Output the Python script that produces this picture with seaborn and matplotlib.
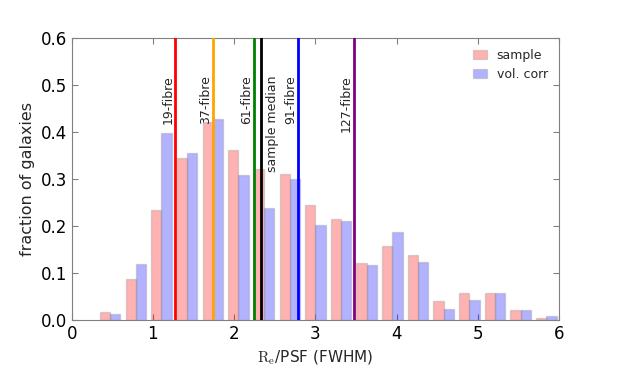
import seaborn as sns
import matplotlib.pyplot as plt
import pandas as pd

#### data
bin_centres = [0.473, 0.789, 1.105, 1.421, 1.737, 2.053, 2.369, 2.685, 3.001,
               3.317, 3.633, 3.949, 4.265, 4.581, 4.897, 5.213, 5.529, 5.845]
frac_sample = [0.016, 0.087, 0.233, 0.344, 0.420, 0.361, 0.320, 0.310, 0.244,
               0.215, 0.121, 0.157, 0.139, 0.040, 0.057, 0.057, 0.022, 0.004]
frac_volcorr = [0.013, 0.118, 0.397, 0.355, 0.427, 0.308, 0.237, 0.300, 0.202,
                0.210, 0.116, 0.188, 0.123, 0.024, 0.042, 0.057, 0.021, 0.009]
series = ['sample', 'vol. corr']

line_names = ['19-fibre', '37-fibre', '61-fibre', 'sample median', '91-fibre', '127-fibre']
line_pos = [1.274, 1.743, 2.24, 2.335, 2.787, 3.47]
line_cols = ['red', 'orange', 'green', 'black', 'blue', 'purple']
##################

sns.set_style('ticks', {'xtick.direction': 'in', 'ytick.direction': 'in',
                        'axes.edgecolor': '0.5'})
plt.rcParams['font.family'] = ['DejaVu Sans']
plt.rcParams['mathtext.fontset'] = 'cm'
plt.rcParams['xtick.top'] = True
plt.rcParams['ytick.right'] = True
plt.rcParams['xtick.color'] = '0.5'
plt.rcParams['ytick.color'] = '0.5'
plt.rcParams['xtick.labelcolor'] = 'black'
plt.rcParams['ytick.labelcolor'] = 'black'

df = pd.DataFrame({
    'x': bin_centres + bin_centres,
    'frac': frac_sample + frac_volcorr,
    'series': [series[0]] * len(bin_centres) + [series[1]] * len(bin_centres),
})

fig = plt.figure(figsize=(6.22, 3.71), dpi=100)
ax = fig.add_axes([0.1153, 0.1375, 0.7834, 0.7609])

sns.barplot(data=df, x='x', y='frac', hue='series', hue_order=series,
            palette={'sample': 'red', 'vol. corr': 'blue'}, native_scale=True,
            width=0.8, saturation=1, alpha=0.3, edgecolor='0.55', linewidth=1,
            errorbar=None, ax=ax)

for name, xpos, col in zip(line_names, line_pos, line_cols):
    ax.axvline(xpos, color=col, lw=2, zorder=3)
    if name == 'sample median':
        ax.text(xpos + 0.06, 0.52, name, rotation=90, ha='left', va='top', fontsize=9)
    else:
        ax.text(xpos - 0.01, 0.52, name, rotation=90, ha='right', va='top', fontsize=9)

ax.set_xlim(0, 6)
ax.set_ylim(0, 0.6)
ax.set_xticks(range(7))
ax.set_xticklabels([str(i) for i in range(7)])
ax.set_yticks([0.0, 0.1, 0.2, 0.3, 0.4, 0.5, 0.6])
ax.set_yticklabels(['0.0', '0.1', '0.2', '0.3', '0.4', '0.5', '0.6'])
ax.tick_params(labelsize=12, length=4)
ax.set_xlabel(r'$\mathrm{R_e}$/PSF (FWHM)', fontsize=11)
ax.set_ylabel('fraction of galaxies', fontsize=11.5)

sns.move_legend(ax, 'upper right', frameon=False, title=None, fontsize=9,
                handlelength=1.1)

fig.savefig('out.png', dpi=100)
